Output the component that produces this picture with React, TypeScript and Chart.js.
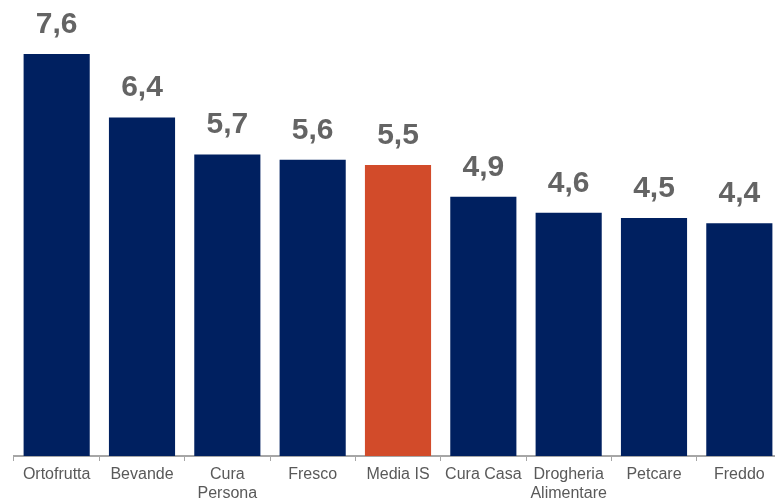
import React, { useEffect, useRef } from "react";
import { Chart, registerables } from "chart.js";

Chart.register(...registerables);

const categories: (string | string[])[] = [
  "Ortofrutta",
  "Bevande",
  ["Cura", "Persona"],
  "Fresco",
  "Media IS",
  "Cura Casa",
  ["Drogheria", "Alimentare"],
  "Petcare",
  "Freddo",
];
const values = [7.6, 6.4, 5.7, 5.6, 5.5, 4.9, 4.6, 4.5, 4.4];
const highlightIndex = 4;

const NAVY = "#002060";
const ORANGE = "#D24B2A";
const LABEL_GRAY = "#646464";
const TICK_GRAY = "#595959";

const valueLabels = {
  id: "valueLabels",
  afterDatasetsDraw(chart: any) {
    const ctx = chart.ctx;
    const meta = chart.getDatasetMeta(0);
    ctx.save();
    ctx.font = "bold 30px 'Liberation Sans', Arial, sans-serif";
    ctx.fillStyle = LABEL_GRAY;
    ctx.textAlign = "center";
    ctx.textBaseline = "alphabetic";
    meta.data.forEach((bar: any, i: number) => {
      const txt = values[i].toFixed(1).replace(".", ",");
      ctx.fillText(txt, bar.x, bar.y - 21);
    });
    ctx.restore();
  },
};

export default function App() {
  const ref = useRef<HTMLCanvasElement | null>(null);
  useEffect(() => {
    document.body.style.margin = "0";
    document.body.style.overflow = "hidden";
    const chart = new Chart(ref.current!, {
      type: "bar",
      data: {
        labels: categories as any,
        datasets: [
          {
            data: values,
            backgroundColor: values.map((_, i) => (i === highlightIndex ? ORANGE : NAVY)),
            barPercentage: 0.775,
            categoryPercentage: 1,
          },
        ],
      },
      options: {
        animation: false,
        responsive: false,
        maintainAspectRatio: false,
        layout: { padding: { left: 14, right: 0, top: 0, bottom: 0 } },
        plugins: { legend: { display: false }, tooltip: { enabled: false } },
        scales: {
          x: {
            grid: {
              display: true,
              drawOnChartArea: false,
              drawTicks: true,
              tickLength: 5,
              color: "#A6A6A6",
              offset: true,
            },
            border: { display: true, color: "#A6A6A6", width: 2 },
            ticks: {
              color: TICK_GRAY,
              font: { family: "'Liberation Sans', Arial, sans-serif", size: 16 },
              maxRotation: 0,
              autoSkip: false,
              padding: 4,
            },
            afterFit(scale: any) {
              scale.height = 45;
            },
          },
          y: {
            display: false,
            min: 0,
            max: 8.62,
          },
        },
      },
      plugins: [valueLabels],
    });
    return () => chart.destroy();
  }, []);
  return (
    <div style={{ position: "fixed", left: 0, top: 0, width: 775, height: 501, overflow: "hidden" }}>
      <canvas ref={ref} width={782} height={501} style={{ display: "block" }} />
    </div>
  );
}
